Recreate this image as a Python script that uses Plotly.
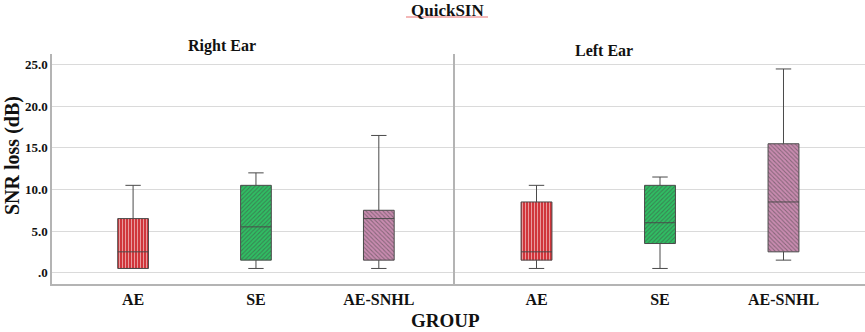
import plotly.graph_objects as go

# ---- data ----
groups = ["AE", "SE", "AE-SNHL"]
panels = ["Right Ear", "Left Ear"]

right_lower = [0.5, 0.5, 0.5]
right_q1 = [0.5, 1.5, 1.5]
right_median = [2.5, 5.5, 6.5]
right_q3 = [6.5, 10.5, 7.5]
right_upper = [10.5, 12.0, 16.5]

left_lower = [0.5, 0.5, 1.5]
left_q1 = [1.5, 3.5, 2.5]
left_median = [2.5, 6.0, 8.5]
left_q3 = [8.5, 10.5, 15.5]
left_upper = [10.5, 11.5, 24.5]

y_tickvals = [0, 5, 10, 15, 20, 25]
y_ticktext = [".0", "5.0", "10.0", "15.0", "20.0", "25.0"]

# ---- style ----
FONT = "Liberation Serif, Times New Roman, serif"
fill_colors = ["#d0353b", "#2fbf63", "#c98bb0"]
stripe_colors = ["#861a20", "#16733a", "#7c3f66"]
pattern_shapes = ["|", "/", "\\"]
BOX_W = 0.25

fig = go.Figure()

sets = [
    ("x", "y", right_lower, right_q1, right_median, right_q3, right_upper),
    ("x2", "y2", left_lower, left_q1, left_median, left_q3, left_upper),
]

for xa, ya, lo, q1, med, q3, up in sets:
    fig.add_trace(go.Bar(
        x=groups, base=q1, y=[b - a for a, b in zip(q1, q3)],
        width=BOX_W, xaxis=xa, yaxis=ya, showlegend=False, hoverinfo="skip",
        marker=dict(color=fill_colors, line=dict(width=0),
                    pattern=dict(shape=pattern_shapes, fgcolor=stripe_colors,
                                 size=3, solidity=0.35)),
    ))
    fig.add_trace(go.Box(
        x=groups, q1=q1, median=med, q3=q3, lowerfence=lo, upperfence=up,
        width=BOX_W, whiskerwidth=0.5, boxpoints=False,
        fillcolor="rgba(0,0,0,0)", line=dict(color="#4a4a4a", width=1),
        xaxis=xa, yaxis=ya, showlegend=False,
    ))

axis_line = "#b4b4b4"
grid = "#dadada"

W, H = 865, 332
ML, MR, MT, MB = 52, 0, 54, 48
pw = W - ML - MR
ph = H - MT - MB
split = (455 - ML) / pw

common_x = dict(type="category", showgrid=False, zeroline=False, showline=True,
                linecolor=axis_line, linewidth=1.5, ticks="",
                tickfont=dict(family=FONT, size=16, color="#111", weight="bold"))
common_y = dict(range=[-1.37, 26.3], tickvals=y_tickvals, ticktext=y_ticktext,
                showgrid=True, gridcolor=grid, gridwidth=1, zeroline=False,
                showline=True, linecolor=axis_line, linewidth=1.5, ticks="",
                tickfont=dict(family=FONT, size=13, color="#111", weight="bold"))


def px_x(p):
    return (p - ML) / pw


def px_y(p):
    return (H - MB - p) / ph


fig.update_layout(
    width=W, height=H,
    margin=dict(l=ML, r=MR, t=MT, b=MB, autoexpand=False),
    paper_bgcolor="white", plot_bgcolor="white",
    barmode="overlay", boxmode="overlay",
    xaxis=dict(domain=[0, split], range=[-0.66, 2.62], anchor="y", **common_x),
    xaxis2=dict(domain=[split, 1], range=[-0.66, 2.66], anchor="y2", **common_x),
    yaxis=dict(anchor="x", **common_y),
    yaxis2=dict(anchor="x2", matches="y", showticklabels=False,
                **{k: v for k, v in common_y.items() if k not in ("tickfont",)}),
    annotations=[
        dict(text="<b>QuickSIN</b>", x=px_x(447), y=px_y(11), xref="paper", yref="paper",
             showarrow=False, font=dict(family=FONT, size=17, color="#111"),
             xanchor="center", yanchor="middle"),
        dict(text="<b>" + panels[0] + "</b>", x=px_x(222), y=px_y(46), xref="paper", yref="paper",
             showarrow=False, font=dict(family=FONT, size=16, color="#111"),
             xanchor="center", yanchor="middle"),
        dict(text="<b>" + panels[1] + "</b>", x=px_x(604), y=px_y(50), xref="paper", yref="paper",
             showarrow=False, font=dict(family=FONT, size=16, color="#111"),
             xanchor="center", yanchor="middle"),
        dict(text="<b>SNR loss (dB)</b>", x=px_x(12), y=px_y(156), xref="paper", yref="paper",
             showarrow=False, textangle=-90, font=dict(family=FONT, size=20, color="#111"),
             xanchor="center", yanchor="middle"),
        dict(text="<b>GROUP</b>", x=px_x(445), y=px_y(320), xref="paper", yref="paper",
             showarrow=False, font=dict(family=FONT, size=19, color="#111"),
             xanchor="center", yanchor="middle"),
    ],
    shapes=[
        dict(type="line", xref="paper", yref="paper", x0=px_x(406), x1=px_x(488),
             y0=px_y(17), y1=px_y(17), line=dict(color="#e87070", width=1)),
    ],
)

# remove the browser's default 8px body margin so the figure sits at the window corner
fig.write_html("out.html", config={"displayModeBar": False},
               post_script="document.body.style.margin='0';")
